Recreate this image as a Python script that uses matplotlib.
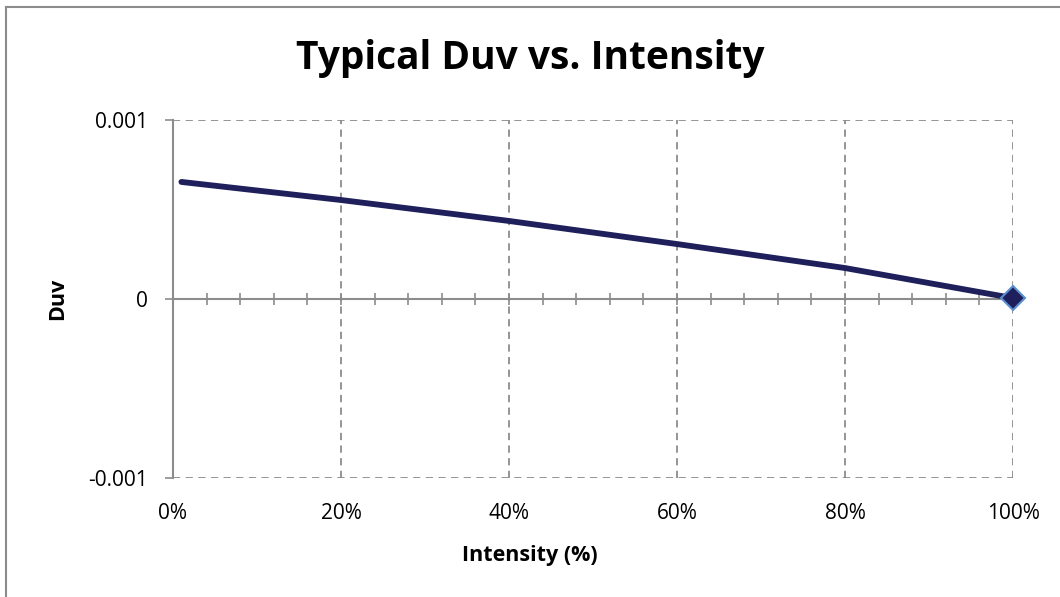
import numpy as np
from matplotlib import pyplot as plt
from matplotlib.ticker import MultipleLocator, FixedLocator, PercentFormatter
from matplotlib.lines import Line2D

# values
intensity = [0.01, 0.20, 0.40, 0.60, 0.80, 1.00]
duv = [0.000654, 0.000553, 0.000436, 0.000307, 0.000173, 0.000005]

title = 'Typical Duv vs. Intensity'
x_label = 'Intensity (%)'
y_label = 'Duv'
x_ticks = [0.0, 0.2, 0.4, 0.6, 0.8, 1.0]
y_ticks = [-0.001, 0, 0.001]
y_tick_labels = ['-0.001', '0', '0.001']

plt.rcParams['font.family'] = ['Open Sans', 'DejaVu Sans']

grey = '#8c8c8c'
navy = '#1f1f5c'


def main():
    fig = plt.figure(figsize=(10.6, 5.97), dpi=100)
    ax = fig.add_axes([0.1632, 0.1993, 0.7925, 0.5997])

    ax.plot(intensity, duv, color=navy, linewidth=4.2, solid_capstyle='round', zorder=3)
    ax.plot(intensity[-1:], duv[-1:], linestyle='none', marker='D', markersize=12,
            markerfacecolor=navy, markeredgecolor='#5b8fd0', markeredgewidth=1.5,
            zorder=4, clip_on=False)

    ax.set_xlim(0, 1)
    ax.set_ylim(-0.001, 0.001)

    # dashed grid lines
    for xv in x_ticks[1:]:
        ax.axvline(xv, color=grey, linestyle=(0, (4, 3)), linewidth=1.3, zorder=1)
    for yv in [-0.001, 0.001]:
        ax.axhline(yv, color=grey, linestyle=(0, (4, 3)), linewidth=1.3, zorder=1)

    for side in ['top', 'right']:
        ax.spines[side].set_visible(False)
    ax.spines['left'].set_color(grey)
    ax.spines['left'].set_linewidth(1.5)
    ax.spines['bottom'].set_position(('data', 0))
    ax.spines['bottom'].set_color(grey)
    ax.spines['bottom'].set_linewidth(1.5)

    # ticks crossing the zero line, every 4%
    ax.xaxis.set_major_locator(FixedLocator(x_ticks))
    ax.xaxis.set_minor_locator(MultipleLocator(0.04))
    ax.tick_params(axis='x', which='both', direction='inout', length=9, width=1.2,
                   color=grey, labelbottom=False)

    ax.set_yticks(y_ticks)
    ax.set_yticklabels(y_tick_labels)
    ax.tick_params(axis='y', direction='out', length=6, width=1.2, color=grey,
                   labelsize=15, pad=12)

    # percent labels along the bottom of the plot area
    sec = ax.secondary_xaxis(0)
    sec.xaxis.set_major_locator(FixedLocator(x_ticks))
    sec.xaxis.set_major_formatter(PercentFormatter(1.0, decimals=0))
    sec.spines['bottom'].set_visible(False)
    sec.tick_params(axis='x', length=0, labelsize=15, pad=18)

    fig.text(0.5, 1 - 58 / 597, title, fontsize=28, fontweight='bold',
             ha='center', va='center')
    fig.text(0.5, 1 - 555 / 597, x_label, fontsize=15.5, fontweight='bold',
             ha='center', va='center')
    fig.text(58 / 1060, 1 - 299 / 597, y_label, fontsize=15.5, fontweight='bold',
             ha='center', va='center', rotation=90)

    # chart border, only left and top edges show in the reference
    fig.lines.append(Line2D([6 / 1060, 6 / 1060], [0, 1 - 7 / 597], transform=fig.transFigure,
                            color=grey, linewidth=1.5))
    fig.lines.append(Line2D([6 / 1060, 1], [1 - 7 / 597, 1 - 7 / 597], transform=fig.transFigure,
                            color=grey, linewidth=1.5))

    fig.savefig('out.png', dpi=100)


if __name__ == '__main__':
    main()
